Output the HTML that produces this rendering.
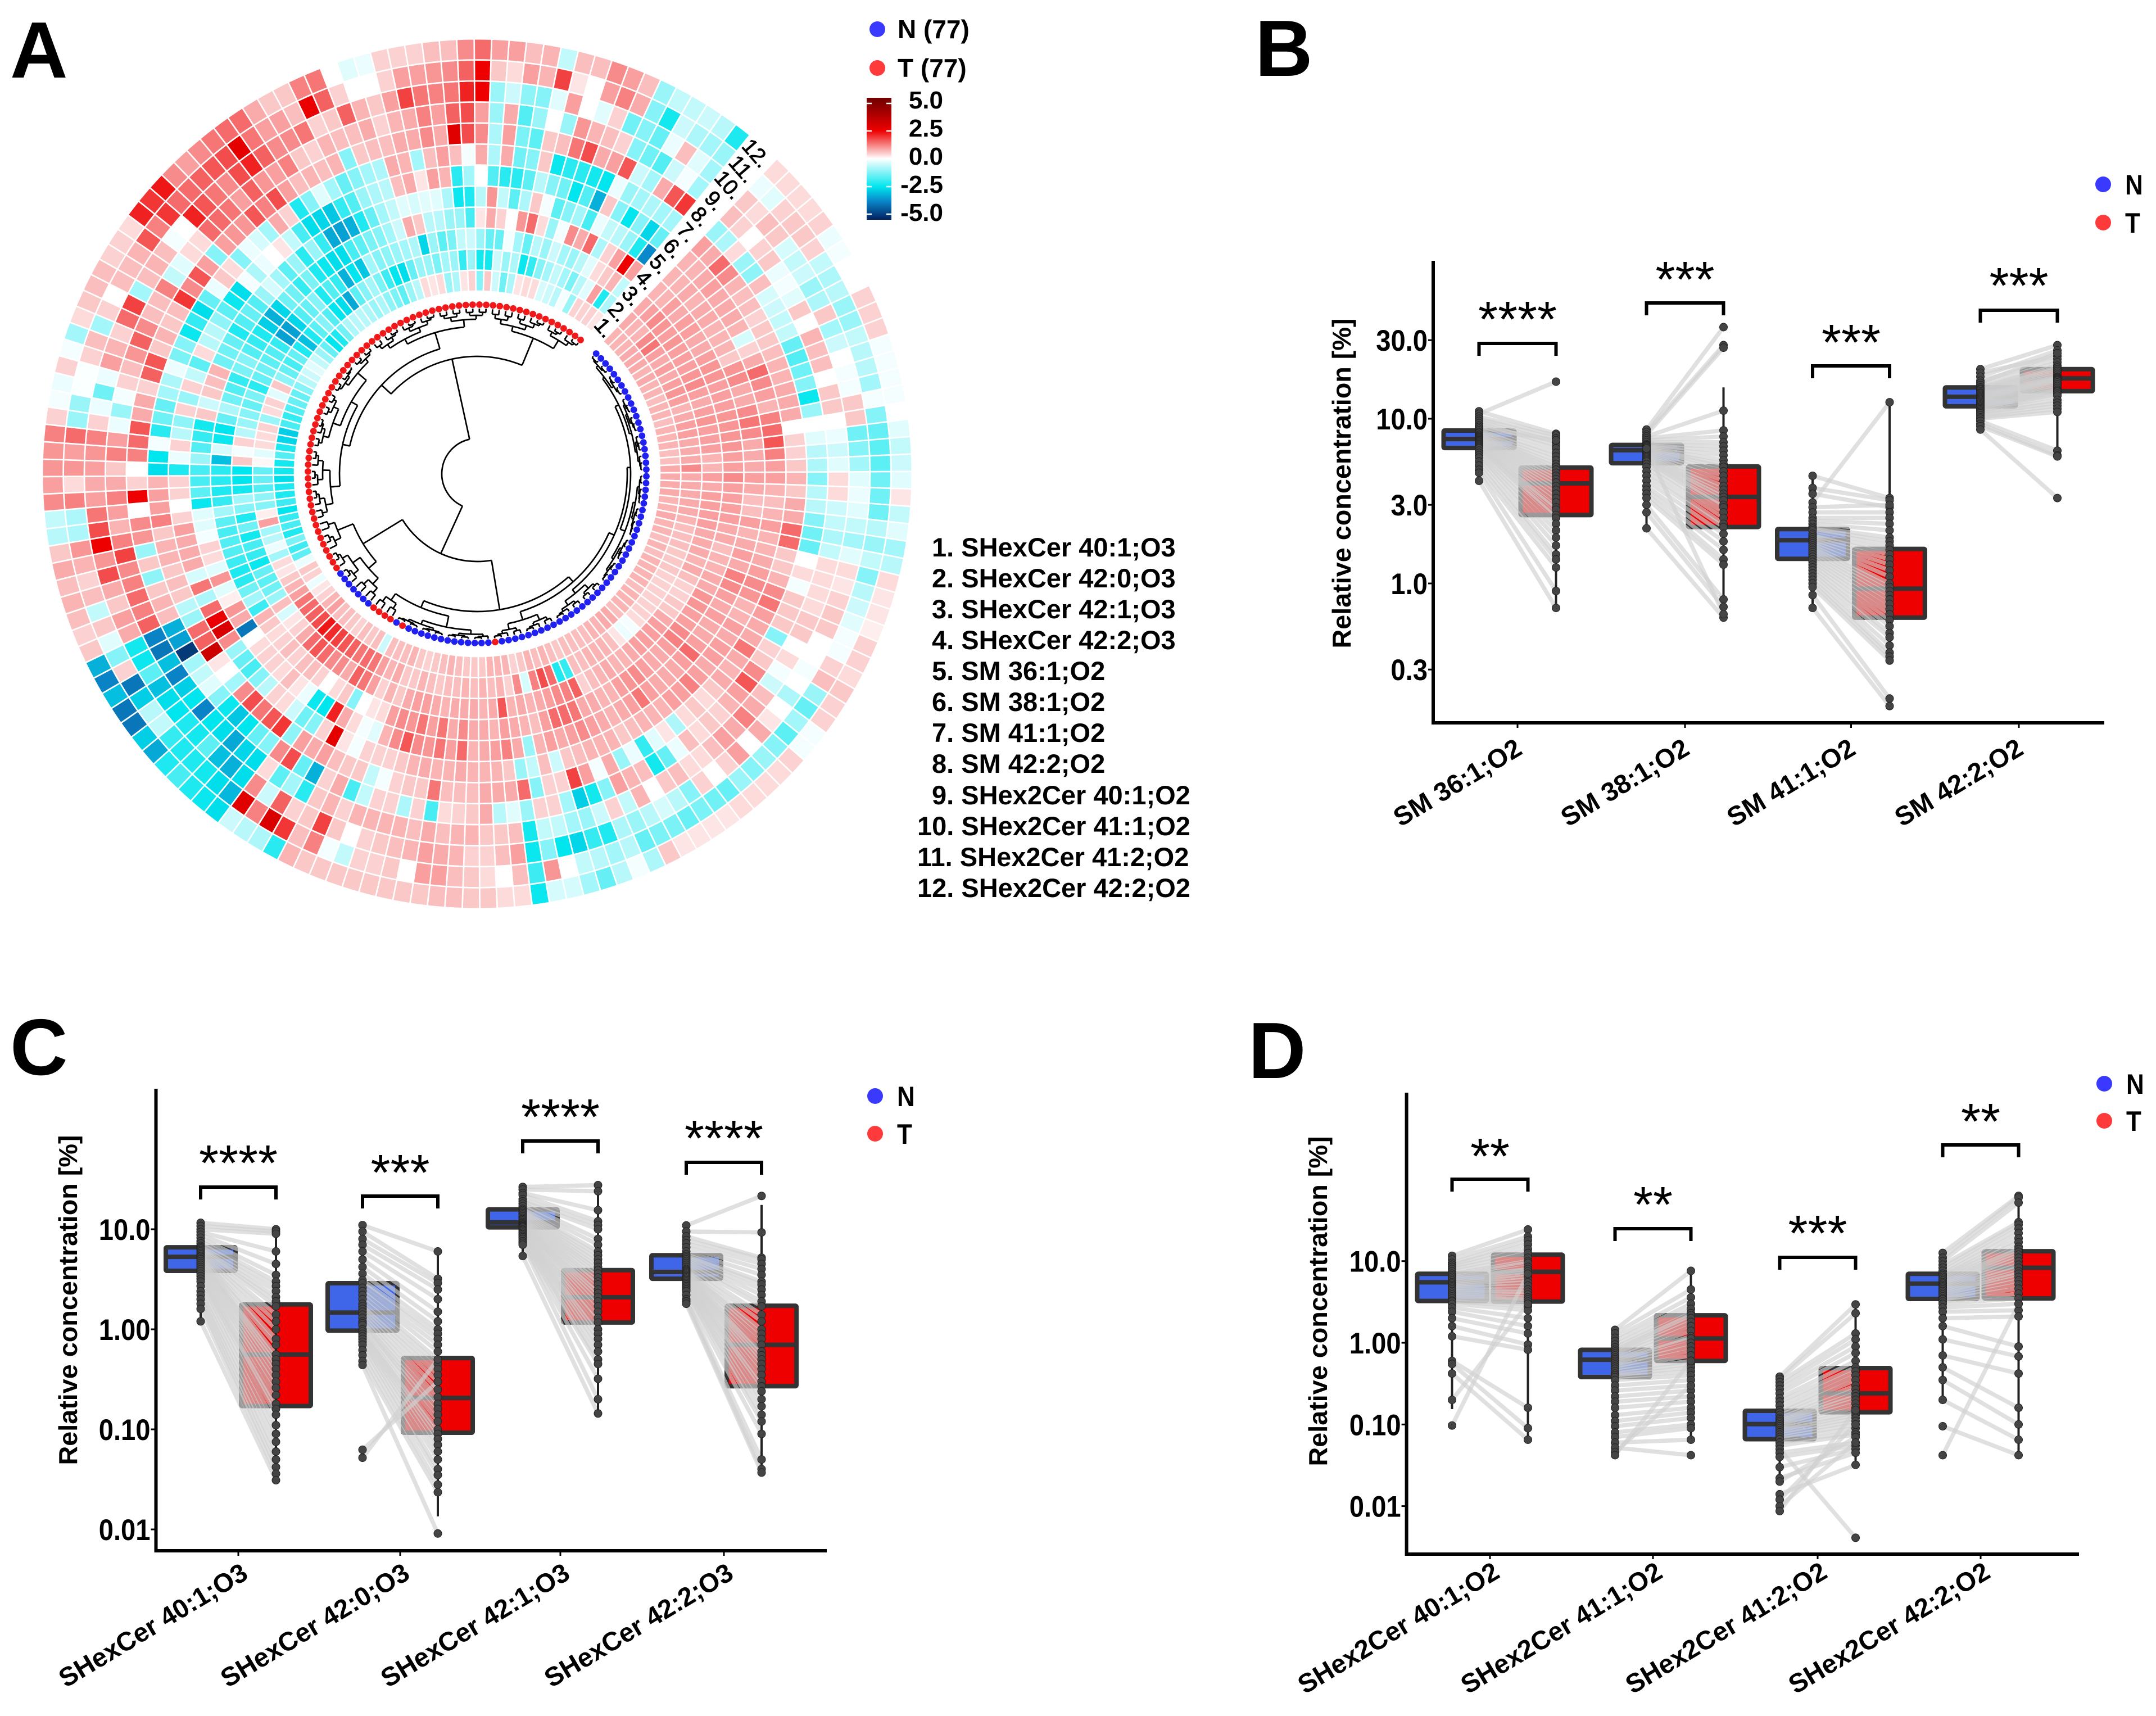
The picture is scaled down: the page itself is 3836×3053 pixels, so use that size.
<!DOCTYPE html>
<html><head><meta charset="utf-8"><title>Sulfatide and sphingomyelin heatmap and paired boxplots</title>
<style>html,body{margin:0;padding:0;background:#fff}svg{display:block}text{font-family:"Liberation Sans",sans-serif}</style></head>
<body>
<svg id="fig" xmlns="http://www.w3.org/2000/svg" width="3836" height="3053" viewBox="0 0 3836 3053">
<rect width="3836" height="3053" fill="#fff"/>
<defs><linearGradient id="cbGrad" x1="0" y1="0" x2="0" y2="1">
<stop offset="0" stop-color="#6e0000"/><stop offset="0.27" stop-color="#ee0000"/><stop offset="0.5" stop-color="#ffffff"/><stop offset="0.73" stop-color="#00e6ee"/><stop offset="0.85" stop-color="#0a85c9"/><stop offset="1" stop-color="#02205f"/></linearGradient></defs>
<g font-weight="bold" font-size="142" fill="#000">
<text x="18" y="138">A</text>
<text x="2233" y="135">B</text>
<text x="18" y="1912">C</text>
<text x="2221" y="1918">D</text>
</g>
<g id="heat"></g>
<g id="dendro" fill="none" stroke="#000" stroke-width="2.7"></g>
<g id="dots"></g>
<g font-weight="bold" font-size="46">
<circle cx="1561" cy="52" r="14" fill="#3a3aff"/>
<text x="1597" y="68">N (77)</text>
<circle cx="1561" cy="121" r="14" fill="#ff3a3a"/>
<text x="1597" y="137">T (77)</text>
</g>
<g font-weight="bold" font-size="44" text-anchor="end">
<rect x="1542" y="174" width="44" height="217" fill="url(#cbGrad)"/>
<g stroke="#fff" stroke-width="2.5">
<path d="M1542 184h9M1577 184h9M1542 233h9M1577 233h9M1542 282h9M1577 282h9M1542 332h9M1577 332h9M1542 381h9M1577 381h9"/>
</g>
<text x="1678" y="193">5.0</text>
<text x="1678" y="243">2.5</text>
<text x="1678" y="293">0.0</text>
<text x="1678" y="343">-2.5</text>
<text x="1678" y="393">-5.0</text>
</g>
<g id="ringKey" font-weight="bold" font-size="47">
<text x="1658" y="990">1. SHexCer 40:1;O3</text>
<text x="1658" y="1045">2. SHexCer 42:0;O3</text>
<text x="1658" y="1100">3. SHexCer 42:1;O3</text>
<text x="1658" y="1155">4. SHexCer 42:2;O3</text>
<text x="1658" y="1210">5. SM 36:1;O2</text>
<text x="1658" y="1265">6. SM 38:1;O2</text>
<text x="1658" y="1320">7. SM 41:1;O2</text>
<text x="1658" y="1375">8. SM 42:2;O2</text>
<text x="1658" y="1431">9. SHex2Cer 40:1;O2</text>
<text x="1632" y="1486">10. SHex2Cer 41:1;O2</text>
<text x="1632" y="1541">11. SHex2Cer 41:2;O2</text>
<text x="1632" y="1596">12. SHex2Cer 42:2;O2</text>
</g>
<g id="chartB"></g>
<g id="chartC"></g>
<g id="chartD"></g>
</svg>
<script>
// ---------- Panel A heatmap values: one array per ring, 154 samples clockwise from the gap ----------
const ring1=[.8,.8,.8,.9,.9,.9,.8,.9,.8,.8,.7,.8,.8,.7,.8,.8,.8,.7,.7,.9,
.9,.9,.9,.8,.8,.9,.8,.8,.7,.8,.7,.8,.8,.8,.8,.7,.8,.8,.8,.7,.9,.9,.8,.8,.7,.7,.7,.7,.6,.7,.8,.7,.8,.6,.5,.8,.8,.8,.6,
.6,.6,.7,.8,.7,.6,.5,.6,.8,.7,.7,.7,-.5,.7,.6,.7,.5,.6,.7,.7,1,.8,.5,.3,-.2,.5,.6,-.2,-1.6,-1.9,-1.3,-2.2,-1.8,-2,-2.5,-1.9,-2.2,-2.2,-2.6,
-2.3,-2.3,-1.7,-2.2,-2.7,-2.8,-1.8,-2,-1.7,-1.5,-1.5,-1.2,-.7,-.5,-.3,-.6,-1,-1.5,-2.5,-2.2,-1.4,-.8,-.7,-.7,-.8,-1,-.8,-1.1,-1.3,-1.6,-1,-.7,.4,.3,.4,-1,-.8,.3,.5,
-1.2,.6,-.5,-1.4,-.8,.3,.4,.4,-.4,-.5,-.7,-.1,-1,.5,.5,.5,.3];
const ring2=[.9,.8,.8,1.2,1.4,1,.9,1,.9,1,1.1,1,.8,.9,1,1,.9,.9,.9,1.2,
.9,.9,.9,.9,.9,.8,.7,.7,.7,.6,.6,.6,.5,.5,.5,.5,.5,.5,.4,-.1,-.2,.3,.7,.8,.8,.8,.7,.7,-2,-2.2,1.5,1.8,1.3,-.4,1.2,.5,.8,.7,.8,
.7,.8,.7,.7,.6,.7,.8,.6,.6,.9,.8,1,1.4,1.5,1.4,1.6,1.7,1.9,2.1,2.3,1.8,1.6,1.5,1.4,1,.8,.6,.3,.4,-.9,-.2,-.7,-.9,1,.2,-1.2,-1.1,-1.7,-1.5,
-1.5,.1,-.3,.4,.4,.5,-1,.4,.5,-.3,.6,-1.1,-1.5,-1.8,-1.5,-2.2,-3,-2.2,-1.6,-1.2,-1.7,-2.5,-2.6,-3.3,-1.6,-1.2,-.9,-1.3,-1.9,-2.5,-2.6,-1.5,-1,-1,-1.3,-.9,-1,-2,-1,
-2.3,-2.3,-.5,-1,-.8,-2.4,-2,-1.2,-.9,-.6,-.9,-1.3,-.7,-.3,1,-2.2,-.8];
const ring3=[.9,1,1.2,1.1,1,1.1,1,1,1,1.1,1.2,1,.9,1,1.1,1,1,1,.8,.8,
1,.9,1,1,1,1,.9,.9,.9,.8,.9,.7,.5,.5,.6,.6,.9,1,1,1,1,.9,.8,.8,.9,.8,.7,.5,1.6,1.3,1.2,1,.9,.8,.9,.8,1.7,.9,.8,
.9,.9,.9,.8,.9,1,1,.9,.6,.8,.5,1,1.4,1.6,.9,1.2,1.2,1.5,1.7,1.5,.9,.5,.3,-.4,.7,-1,-1.4,-1.6,-1.5,-2.4,-2,-1.8,-2.3,-1.4,-2.2,-1.2,-.9,-2.3,-2.5,
-2.5,.6,-.1,.5,-.7,-1,-1.2,-1.5,-1.3,-2.1,-1.5,-1.4,-1.6,-1.7,-2,-3.4,-3.4,-2.7,-1.7,-1.5,-1.2,-2.2,-1.7,-2,-3.2,-2.5,-2.9,-.9,-1.2,-1.1,-1,-.9,-.8,-2.7,-1,-1.6,-1.3,-.6,-.5,
-1,-1.5,-1.5,-.1,-.9,-1.5,-.7,-1,-.5,-.9,-1,-.7,-.3,.4,.6,.8,-.6];
const ring4=[.8,.8,1,.9,1,1,.9,.9,1,1.1,1.1,1,1,1,1.1,1.1,1.1,1.1,1,1,
1.2,1,1,1,1,.9,.9,.7,.8,.8,.9,.9,1.1,1.1,1,1,1.2,1.3,1,.9,.9,1,1.2,1.1,1,.8,.8,.9,.9,1.4,1.5,1.5,1,.7,.8,.9,1,.8,.9,
.9,1.2,.9,1.4,1,1.4,1.1,1.2,1,.4,.3,0,-1.2,.6,.4,0,.5,.7,.7,.5,.7,.5,.4,.6,.8,-1.9,-.9,-1.4,-2.1,-2.2,-1.9,-1.7,-1.7,-1.8,-1.6,-.9,-2,-2.2,-2.1,
-2.1,-3,-.4,-2.4,-2.5,-1.5,-.8,-1.4,-1.7,-2,-1.3,-1.2,-1.7,-2,-2.2,-2.8,-3.2,-2.7,-1.4,-1.4,-2,-1.3,-2.2,-2.4,-2.6,-2.6,-1.8,-1.6,-1.3,-1.2,-.9,-.5,.9,.6,-.7,-.7,-1,-1,-1.8,
.3,.9,.5,0,1.1,1.5,.4,-1,-.1,1.2,.9,1.5,-.8,.5,1,2.5,1];
const ring5=[.8,.8,.9,.8,.9,.9,.8,.8,.8,.6,1.1,1.2,.9,.9,1.2,1.4,1.2,.9,.9,.9,
1,.9,.7,.7,1,.8,.9,1,.9,1.3,1.2,1,.9,1,.9,.9,1,1.5,1,.9,.9,.9,1,1.4,1,.9,.8,.9,1,1.2,1,.9,1,.8,-1,.9,1.3,1,.9,
.8,1.5,1,1.4,1.1,1.2,1.7,1.2,.8,-.3,-.1,.4,.9,2.2,-2.5,-2.4,-.2,.3,.7,.4,.5,.5,.4,0,-4,.9,1.1,.2,-.3,1.1,-.3,.4,.5,-.1,-.3,-.3,-2.4,-1.6,-1.8,
-1.8,-1,-1.7,-2,-2.3,.6,-.5,.6,.7,.8,-1.4,-1.4,-1.5,-2.2,-1.7,-1.5,-1.7,-1,-.4,-.9,-1.6,-1,-2.1,-1,-2,-3.3,-3.4,-3.2,-2.2,-1.5,-.9,-.6,-.3,-.4,-.3,-.3,-.8,-2.4,-2.2,
-.7,1.1,-.6,-1.6,-.8,.6,-.1,-1.6,-1.2,-.9,-1.8,-.2,-.6,-.7,-1,-2.2,-3.7];
const ring6=[.8,.8,.9,1,.9,.9,.9,.8,-.4,.5,.9,1.5,1.2,1,.8,1.3,1.5,1.7,1.3,1,
1,.8,.7,.8,1,.8,.8,.9,1,1.2,1.1,.8,.8,1,.9,1,1,.9,1,1.3,1,1,.8,.8,.8,.7,.6,.8,.8,.8,.7,.6,-.5,.7,-.6,-1,.6,.8,.8,
.8,.9,.8,.8,.9,.8,.6,.5,.5,.5,-.1,.3,2.7,.5,-1.2,-1.4,-.5,.4,.5,-.7,-1.2,-1.8,-1.5,-1,1.2,3,2.6,1.5,-.8,1.4,-.4,.9,.9,.9,1,.5,0,.5,.5,
-2.2,-.2,.5,-.7,-1.1,.5,-1,.5,-.6,-1.6,.4,-.7,-.7,-1.1,-1.6,-2.4,-2.6,-.1,-.8,-.2,0,.3,-.6,-1.8,-2.6,-2.7,-2.9,-2,-1.7,-1,-.8,-.7,.7,.9,.3,1,.8,-2.1,-.9,
0,-1.7,-2.1,-2.1,-1.6,-.7,-1.2,-1.4,-2.5,-1.7,-3.2,.6,-1.2,-2.5,-1.2,-2.7,-1.5];
const ring7=[1,.9,1.5,1.2,.8,.7,.7,.5,.6,.6,.7,.8,.8,.9,.9,.9,0,.5,.5,.6,
.8,.6,.9,.9,1.5,1.5,.6,.6,.8,1.2,1.4,1,.9,.9,1.4,.9,.8,.9,.6,.4,.6,.4,-.8,.3,-.3,-2,-.2,-1,.9,-.1,1,1.9,.5,.5,-1.2,1.5,.9,.9,.9,
.7,.7,.7,1.4,.6,.6,.5,-.1,-.6,.6,.6,.7,1,.9,1,-1.1,2,1.7,1.4,1.8,1.2,-.9,0,.3,3.3,1.6,1.5,-1,-.7,.6,.7,.6,.8,.8,.6,1.3,1,1,.8,
-2.6,-2.5,-.1,-2.1,-1.4,-1.5,-.9,-.8,-.2,-1.3,-1.2,-2.4,-2,-2.6,-1.5,-.2,.6,.4,-1.2,-.2,-.4,-.9,.9,.5,-2.2,-1.2,-.3,-.9,-1.5,-1.2,-.9,-.8,.9,.8,-.9,.7,1,.7,-.1,
.9,-.8,.9,-1.4,-1.2,.6,-2.4,-2.1,-2.1,-2.3,-2.5,-.2,-1,-.9,-.8,-.9,-.9];
const ring8=[-1,-.8,.4,-1,-1.1,.7,-.4,-.5,-.6,-.6,-1.5,-1.7,-1.4,-1.2,-2.4,-1,0,-.3,-.7,-.8,
-1.2,-.7,-.7,-1.2,-1.4,-1.5,0,.4,-.1,.6,.6,.6,-1.2,.5,.6,1.2,1.7,1,.8,.5,.6,.4,.7,-.2,-1.5,-2.3,.7,.8,1,-1.2,-2.3,-2.8,-.9,.5,.5,-1,-.3,-.7,.9,
.6,.5,.4,-1.8,.5,-.8,.5,.5,-.6,-1.8,.9,.5,-3.2,-1.5,1.8,1.2,-1.2,-1.5,-2.5,-2.9,-2.4,-1.2,-.3,-.6,-.9,-5,-3.4,-3.2,.7,.8,.6,-1.1,.6,-1,1.1,1.2,0,2.5,.5,
0,1.3,1.5,1.7,.9,.9,.5,1.6,1.7,.6,.8,.6,.7,2,1.2,1.7,1,-1.2,1,1.1,1.1,1.7,1.3,1.8,1,.7,.8,.7,.8,-1.2,.6,.7,.7,.9,.9,1.2,.9,2.8,1.8,
1.2,-.8,1,-1.3,-1.6,.6,.7,1.4,1.8,.9,1,1.7,-.5,-.9,.9,1.7,2];
const ring9=[.7,.5,0,.5,.6,-.2,-.1,-.3,.6,0,.8,.7,.7,0,.6,.6,0,-.2,-.5,-.3,
.4,.4,-.5,-.6,-.8,-.6,.4,.4,.4,.4,.6,.6,0,.4,-.1,-.5,.7,.9,1.3,.9,1,.7,.4,.4,.7,.6,0,.8,-.6,.5,-.5,-1,-.9,-.6,-.6,-2.3,.7,.6,.6,
.8,.8,.7,.9,.7,.8,.8,.8,.8,.5,.8,.6,-2.1,-.9,-1.6,.4,-2.6,-2.7,-3.3,-2.6,-2.5,-3.8,-2.5,-2.8,-3.8,-3,-4,-3.8,1.6,1.3,1.5,1.3,1.2,1.9,1.3,.8,1,1.3,.9,
.6,1.3,1,-.2,-1,-.1,.5,.7,1.1,1.6,1.2,.7,.7,1.3,-.6,-.3,.4,.4,1.5,1.5,1.4,1,1.6,1.1,1,1.3,.6,.5,.8,.7,.7,.9,.5,.8,.9,1.3,1,1.6,1.8,
1,-1,.9,-1.7,-1,0,-1,1.1,.8,.7,.5,-1.2,-1.4,-1.7,-.5,-.1,-.9];
const ring10=[.6,.4,.7,.6,-.4,-.6,-.5,-1,-.8,.6,-.9,-.5,0,-.1,-.1,.6,.6,-1.4,-1.2,-.9,
-.3,-.2,-.3,-.6,-.9,-.3,.4,.3,.5,.6,.6,0,0,-.1,0,-.8,0,.3,.9,0,1,.5,0,.5,-1.2,-.7,-.4,-.7,-1,-.8,-2.2,-2,-2.7,-2.5,-1.2,-2.4,1,.7,.5,
.5,.8,.9,1,.8,.7,.6,.5,0,.6,1.9,.6,.5,1.6,-.5,1.2,-2.6,-3.2,-3,-1.6,-2.3,-2.2,-2.5,-2.6,-3,-1.6,-2.4,-2.3,.9,1,.6,.9,1.8,1.1,2.5,1.8,1.4,1,.9,
1,1.1,1.3,.5,-.2,-1.4,-.2,1,.8,.5,1.5,1.9,-.9,.7,.8,.7,-.1,0,2.2,1.7,1.4,1.2,1.8,2.2,1.6,1.2,1.2,1.4,.5,.6,1.6,.8,.6,1,1.9,1.4,1.3,1.4,2.2,
2.5,-1,-.5,-1.1,-1.2,-.3,1,0,-.3,.5,-1.4,-1.2,-1.5,-.2,.7,-.3,-.9];
const ring11=[-.2,-.3,.5,.6,.6,.5,-.6,-.8,-.7,-1,-1,-.6,-.7,-.7,-.9,-.1,-1.2,-1.5,-1.6,-1.6,
-1.4,-1.4,-1.4,-.7,-1,-.6,-1.2,-.7,-.5,-.3,-.1,-.1,.5,.7,-1,-1.5,-.9,-1.6,-1.2,-1,-1.2,-1,-1.5,-1.4,-1.3,-1.5,-1.3,-1.3,-1.5,-.7,-.9,-.7,-.6,0,1.1,-1.9,.7,0,.4,
.6,.7,1,1,0,.6,.5,.5,-.6,-.1,1.3,.7,2,3,1.3,2.8,-3.1,-2.6,-2.3,-2.2,-2.2,-2,-.6,-.7,-2.8,-4,.5,-1.2,-.3,.6,-.6,.7,.5,.8,1.1,-.8,-.8,1.3,.4,
1.1,1,1.5,-1,-1,-.05,-.05,.5,.7,-.9,.5,0,.7,.7,.8,1.7,1.3,2,1.5,1.5,1.6,1.7,1.8,2.7,1.4,1,1,.7,2.6,1.6,.5,0,0,.5,1,1,1.1,1.2,1.6,
2.5,.6,.4,1,.8,1.9,.3,0,1,1.3,.9,-1.2,-2.3,-.5,-.8,-.9,-1];
const ring12=[.4,.4,.4,.4,.5,-.2,-.1,0,0,.5,.5,.5,-.1,-.1,-.1,-.1,0,-.3,-.6,-.5,
-.3,.3,-.6,-.3,-.9,-.7,.4,.3,.3,.2,.5,.5,.4,.6,.5,.5,-.1,-.1,.5,.4,.4,.4,.4,.3,.3,.3,.3,.6,-.8,-.1,-.7,-1.5,-.9,-.4,-.4,-2.4,.4,.4,.6,
.6,.7,.7,.6,.6,.6,.6,.6,.6,.6,.6,.8,-2.1,-.8,-.7,-.5,-2.6,-2.4,-2.2,-1.8,-2.2,-3.3,-2.8,-4,-4,-3,-3.8,-3.2,.6,.5,.7,.8,.7,.9,.6,-.7,-.6,1.2,1,
1.1,1.1,1.3,.5,-.1,-.2,.5,-.1,-.9,.4,.6,.7,.7,.5,.5,.4,2.2,2,2.3,1.2,1,1.2,1.4,1.5,1.5,.9,.6,.6,1.3,1.4,0,-.3,-.2,.5,.5,.5,.7,.7,1.2,
1.5,1,1,.7,.8,-.6,.7,.7,1.2,1,.7,-1,-.6,-.6,-.5,-.7,-2.2];
const rings=[ring1,ring2,ring3,ring4,ring5,ring6,ring7,ring8,ring9,ring10,ring11,ring12];
const ringNumbers=['1.','2.','3.','4.','5.','6.','7.','8.','9.','10.','11.','12.'];
// sample classes around the circle as runs: [count, class]
const sampleRuns=[[56,'N'],[1,'T'],[13,'N'],[1,'T'],[1,'N'],[4,'T'],[7,'N'],[71,'T']];
// dendrogram topology: [merge radius, child, child]; [radius, number] is a tight cluster of leaves
const sampleTree=[63,
 [156,
  [245,
   [257,[267,[273,[280,[284,8],[284,[287,6],[287,6]]],[282,[286,10],[286,8]]],[275,9]],[272,10]],
   [258,[278,15],[272,4]]],
  [238,[256,[270,4],[272,[283,3],[283,3]]],[268,[280,3],[280,2]]]],
 [209,
  [232,
   [245,[262,[275,5],[275,6]],[258,[272,[282,5],[282,4]],[278,[285,5],[285,4]]]],
   [262,[272,[280,5],[280,6]],[275,[282,4],[282,4]]]],
  [261,[270,[278,4],[278,5]],[278,[285,3],[285,3]]]]];

// ---------- Panel B values ----------
const bCats=['SM 36:1;O2','SM 38:1;O2','SM 41:1;O2','SM 42:2;O2'];
const bTicks=[30,10,3,1,.3];
const bTickLabels=['30.0','10.0','3.0','1.0','0.3'];
const bStars=['****','***','***','***'];
const bNQ1=[6.64,5.37,1.41,11.9],bNMed=[7.53,6.44,1.83,13.6],bNQ3=[8.48,6.93,2.14,15.5];
const bTQ1=[2.6,2.2,.62,14.7],bTMed=[4.05,3.35,.93,17.6],bTQ3=[5.05,5.13,1.62,20];
const bNLo=[4.2,2.16,.71,8.6],bNHi=[11.1,8.6,4.5,20],bTLo=[.71,.62,.34,6],bTHi=[8.1,15.5,12.6,28];
const bN1=[11.1,10.7,10.3,10,9.7,9.4,9.1,8.9,8.7,8.5,8.3,8.2,8,7.9,7.8,7.7,7.6,7.5,7.4,7.3,7.2,7.1,7,6.9,6.8,6.7,6.6,6.4,6.2,6,5.8,5.5,5.2,4.9,4.7,4.2];
const bT1=[8.1,16.8,7.9,7.6,7.2,6.9,6.6,7.4,6.2,5.9,5.6,5.3,5.1,4.9,4.7,4.5,4.3,4.1,3.9,3.7,3.5,3.3,3.1,2.9,2.8,2.6,2.5,2.3,2.1,1.9,1.7,1.5,1.4,1.25,.9,.71];
const bN2=[8.6,8.3,8,7.8,7.6,7.4,7.2,7,6.9,6.8,6.7,6.6,6.5,6.4,6.3,6.2,6.1,6,5.9,5.8,5.7,5.6,5.5,5.3,5.1,4.8,4.5,4.2,3.9,3.7,3.5,3.3,3,2.7,2.16,6.6];
const bT2=[36,28,27,11.2,8.5,7.8,7.2,6.8,6.4,6,5.6,5.3,5.1,4.8,4.5,4.2,3.9,3.7,3.5,3.35,3.2,3,2.9,2.7,2.5,2.3,2.2,2,1.8,1.6,1.4,1.3,.8,.72,.62,.65];
const bN3=[4.5,3.8,3.5,3.1,2.9,2.7,2.5,2.4,2.3,2.2,2.15,2.1,2,1.95,1.9,1.85,1.8,1.75,1.7,1.65,1.6,1.55,1.5,1.45,1.4,1.35,1.3,1.25,1.2,1.15,1.1,1.05,1,.95,.85,.71];
const bT3=[3.3,3.2,2.9,12.6,3,2.7,2.5,2.3,2.1,1.9,1.8,1.7,1.6,1.5,1.4,1.3,1.2,1.1,1,.95,.9,.85,.8,.75,.7,.65,.6,.55,.5,.47,.42,.38,.36,.34,.2,.18];
const bN4=[20,19,18,17,16.5,16,15.5,15.2,15,14.7,14.4,14.2,14,13.8,13.6,13.4,13.2,13,12.8,12.6,12.4,12.2,12,11.8,11.6,11.4,11.2,11,10.8,10.5,10.2,10,9.7,9.3,9,8.6];
const bT4=[28,24,26,23,25,22,21,20.5,20,19.5,19,18.5,18,17.8,17.6,17.4,17.2,17,16.6,16.2,15.8,15.4,15,14.8,14.6,14.2,13.8,13,12.5,12,11.5,11,6.4,6,5.9,3.3];

// ---------- Panel C values ----------
const cCats=['SHexCer 40:1;O3','SHexCer 42:0;O3','SHexCer 42:1;O3','SHexCer 42:2;O3'];
const cTicks=[10,1,.1,.01];
const cTickLabels=['10.0','1.00','0.10','0.01'];
const cStars=['****','***','****','****'];
const cNQ1=[3.84,.97,10.45,3.2],cNMed=[5.3,1.47,11.7,3.74],cNQ3=[6.6,2.89,15.8,5.5];
const cTQ1=[.171,.0925,1.17,.27],cTMed=[.56,.206,2.09,.7],cTQ3=[1.77,.516,3.9,1.72];
const cNLo=[1.2,.44,5.4,1.8],cNHi=[11.6,11,26.5,10.9],cTLo=[.031,.0135,.144,.037],cTHi=[10,6,27.6,17.5];
const cN1=[11.6,10.8,10,9.4,8.8,8.2,7.6,7.2,6.8,6.6,6.4,6.2,6,5.8,5.6,5.4,5.3,5.1,5,4.8,4.6,4.4,4.2,4,3.8,3.6,3.4,3.2,3,2.7,2.4,2.2,2,1.8,1.6,1.2];
const cT1=[10,9.5,9,6,4.5,3.5,3,2.7,2.4,2.1,1.9,1.7,1.4,1.2,1,.8,.7,.56,.5,.45,.4,.35,.3,.26,.22,.18,.16,.14,.11,.09,.075,.06,.05,.042,.036,.031];
const cN2=[11,9.5,8,7,6,5,4.2,3.6,3.1,2.9,2.6,2.4,2.2,2,1.8,1.7,1.6,1.5,1.4,1.3,1.2,1.15,1.1,1,.95,.9,.85,.8,.75,.7,.62,.55,.48,.44,.0625,.052];
const cT2=[6,3.2,2.9,2.5,2,1.5,1.2,1,.9,.8,.7,.6,.5,.45,.4,.35,.3,.25,.21,.18,.16,.14,.12,.1,.09,.08,.07,.06,.05,.04,.035,.028,.0235,.0091,.3,.5];
const cN3=[26.5,25,23,22,20,19,18,17,16,15.5,15,14.5,14,13.5,13,12.6,12.2,11.8,11.5,11.2,11,10.8,10.6,10.4,10,9.8,9.5,9.2,8.9,8.6,8.3,8,7.6,7.3,7,5.4];
const cT3=[27.6,24,15.5,12,11,10,8,7,6,5.5,5,4.6,4.2,3.9,3.6,3.3,3,2.8,2.5,2.3,2.1,1.9,1.7,1.5,1.3,1.17,1,.9,.8,.7,.6,.5,.45,.32,.2,.144];
const cN4=[10.9,9.5,8.5,7.8,7.2,6.6,6,5.6,5.4,5.2,5,4.8,4.6,4.4,4.2,4,3.9,3.8,3.7,3.6,3.5,3.4,3.3,3.2,3.1,3,2.9,2.8,2.7,2.6,2.5,2.4,2.2,2,1.9,1.8];
const cT4=[21.5,9.3,5.2,5,4.5,4,3.5,3,2.8,2.5,2.2,1.9,1.7,1.4,1.2,1,.9,.8,.7,.6,.55,.5,.45,.4,.35,.3,.27,.24,.2,.17,.14,.12,.09,.05,.04,.037];

// ---------- Panel D values ----------
const dCats=['SHex2Cer 40:1;O2','SHex2Cer 41:1;O2','SHex2Cer 41:2;O2','SHex2Cer 42:2;O2'];
const dTicks=[10,1,.1,.01];
const dTickLabels=['10.0','1.00','0.10','0.01'];
const dStars=['**','**','***','**'];
const dNQ1=[3.25,.38,.066,3.44],dNMed=[5.5,.62,.101,5.3],dNQ3=[7,.82,.147,7];
const dTQ1=[3.2,.6,.141,3.5],dTMed=[7.4,1.13,.24,8.3],dTQ3=[12,2.17,.49,13.2];
const dNLo=[.154,.042,.02,.2],dNHi=[11.6,1.44,.385,12.6],dTLo=[.065,.06,.032,.042],dTHi=[24.4,7.6,2.95,63];
const dN1=[11.6,10.5,9.5,9,8.5,8,7.5,7,6.7,6.4,6.1,5.8,5.5,5.3,5.1,4.9,4.7,4.5,4.3,4.1,3.9,3.7,3.5,3.3,3.2,3,2.7,2.4,2,1.6,1.2,.6,.55,.42,.2,.097];
const dT1=[24.4,20,18,16,14,12.5,11,10,9.5,8.5,8,7.5,7,6.5,6,5.5,5,4.5,4.2,3.9,3.6,3.4,3.2,3,2.8,2.5,2,1.6,1.3,.95,.82,.16,.09,.065,3,7];
const dN2=[1.44,1.3,1.15,1.05,.95,.88,.82,.78,.74,.7,.66,.63,.6,.57,.54,.51,.48,.45,.42,.4,.38,.35,.3,.26,.22,.19,.16,.13,.11,.095,.08,.07,.06,.052,.046,.042];
const dT2=[7.6,4.5,3.6,3,2.6,2.3,2.17,2,1.8,1.6,1.4,1.2,1.13,1,.9,.8,.7,.6,.55,.5,.45,.4,.35,.3,.26,.22,.19,.16,.14,.12,.1,.09,.065,.042,.3,.6];
const dN3=[.385,.36,.33,.3,.27,.24,.21,.19,.17,.15,.14,.13,.12,.115,.11,.105,.1,.095,.09,.085,.08,.075,.07,.066,.06,.055,.05,.045,.04,.03,.022,.02,.014,.012,.01,.0087];
const dT3=[2.95,2.3,1.3,1.1,.9,.75,.6,.5,.45,.4,.35,.3,.27,.24,.22,.2,.18,.16,.14,.13,.12,.11,.1,.09,.08,.075,.0041,.06,.055,.05,.045,.07,.032,.1,.06,.15];
const dN4=[12.6,11,10,9,8.3,7.6,7,6.7,6.4,6.1,5.8,5.5,5.3,5.1,4.9,4.7,4.5,4.3,4.1,3.9,3.7,3.5,3.4,3.2,3,2.7,2.4,2,1.6,1.1,.7,.5,.35,.2,.095,.042];
const dT4=[63,60,52,30,28,25,22,19,17,15,14,13,12,11,10,9,8.3,7.5,7,6.4,5.8,5.2,4.6,4,3.5,3,2.5,2.1,.9,.68,.42,.16,.1,.065,.042,3];

const NS='http://www.w3.org/2000/svg';
function mk(parent,tag,attrs,txt){
  const el=document.createElementNS(NS,tag);
  for(const k in attrs){el.setAttribute(k,attrs[k]);}
  if(txt!==undefined){el.textContent=txt;}
  parent.appendChild(el);
  return el;
}

// ---------- Panel A drawing ----------
const CX=849,CY=843,R0=325,RW=37.4,START=43.55,STEP=2.307;
function polar(r,a){const t=a*Math.PI/180;return [CX+r*Math.sin(t),CY-r*Math.cos(t)];}
function arcPath(r,a1,a2){
  const p=polar(r,a1),q=polar(r,a2);
  return 'A'+r+' '+r+' 0 '+(Math.abs(a2-a1)>180?1:0)+' '+(a2>a1?1:0)+' '+q[0].toFixed(1)+' '+q[1].toFixed(1);
}
const colorStops=[[-5.5,[2,28,88]],[-3.75,[10,133,201]],[-2.5,[0,230,238]],[0,[255,255,255]],[2.5,[238,0,0]],[5.5,[110,0,0]]];
function colorOf(v){
  v=Math.max(-5.5,Math.min(5.5,v||0));
  if(v>0&&v<2.5){v=2.5*Math.pow(v/2.5,1.07);}
  for(let i=1;i<colorStops.length;i++){
    if(v<=colorStops[i][0]){
      const a=colorStops[i-1],b=colorStops[i],f=(v-a[0])/(b[0]-a[0]);
      return 'rgb('+[0,1,2].map(function(k){return Math.round(a[1][k]+(b[1][k]-a[1][k])*f);}).join(',')+')';
    }
  }
  return 'rgb(110,0,0)';
}
const heat=document.getElementById('heat');
rings.forEach(function(vals,ri){
  const rIn=R0+RW*ri,rOut=rIn+RW;
  const g=mk(heat,'g',{stroke:'#fff','stroke-width':2.6});
  
  
  vals.forEach(function(v,c){
    const a1=START+STEP*c,a2=a1+STEP,p=polar(rIn,a1),q=polar(rOut,a1);
    const d='M'+p[0].toFixed(1)+' '+p[1].toFixed(1)+'L'+q[0].toFixed(1)+' '+q[1].toFixed(1)+arcPath(rOut,a1,a2)+'L'+polar(rIn,a2).map(function(n){return n.toFixed(1);}).join(' ')+arcPath(rIn,a2,a1)+'Z';
    const cell=mk(g,'path',{d:d,fill:colorOf(v)});
    
    
  });
  const c=polar(rIn+RW/2,41);
  const lab=mk(heat,'text',{x:c[0],y:c[1],'font-size':38,'text-anchor':'middle','dominant-baseline':'central',fill:'#000',stroke:'#000','stroke-width':0.9,transform:'rotate(49 '+c[0]+' '+c[1]+')'},ringNumbers[ri]);
  
  
});
const leafClasses=[];
sampleRuns.forEach(function(run){for(let i=0;i<run[0];i++){leafClasses.push(run[1]);}});
const colAngle=function(c){return START+STEP*(c+.5);};
const dotsG=document.getElementById('dots');
leafClasses.forEach(function(cls,c){
  const p=polar(301,colAngle(c));
  const dot=mk(dotsG,'circle',{cx:p[0].toFixed(1),cy:p[1].toFixed(1),r:5.9,fill:cls==='N'?'#2020f0':'#f01818'});
  
  
});
const dendro=document.getElementById('dendro');
let leafCursor=0,dendroD='';
function join(r,x,y){
  [x,y].forEach(function(ch){
    const p=polar(r,ch.a),q=polar(ch.r,ch.a);
    dendroD+='M'+p[0].toFixed(1)+' '+p[1].toFixed(1)+'L'+q[0].toFixed(1)+' '+q[1].toFixed(1);
  });
  const s=polar(r,x.a);
  dendroD+='M'+s[0].toFixed(1)+' '+s[1].toFixed(1)+arcPath(r,x.a,y.a);
  return {a:(x.a+y.a)/2,r:r};
}
function cluster(n,r){
  if(n===1){const a=colAngle(leafCursor);leafCursor+=1;return {a:a,r:294};}
  const k=Math.floor(n/2);
  const x=cluster(k,r+(293-r)*.5),y=cluster(n-k,r+(293-r)*.5);
  return join(r,x,y);
}
function grow(node){
  if(node.length===2){return cluster(node[1],node[0]);}
  const x=grow(node[1]),y=grow(node[2]);
  return join(node[0],x,y);
}
grow(sampleTree);
const dendroPath=mk(dendro,'path',{d:dendroD,'stroke-linejoin':'miter'});



// ---------- Boxplot drawing ----------
function drawBoxChart(hostId,L,cats,ticks,tickLabels,stars,nq1,nmed,nq3,tq1,tmed,tq3,nlo,nhi,tlo,thi,nSets,tSets){
  const host=document.getElementById(hostId);
  const y=function(v){return L.y1-L.decade*Math.log10(v);};
  const ink='#333';
  cats.forEach(function(cat,i){
    const xc=L.catX[i],xn=xc-L.off,xt=xc+L.off;
    const g=mk(host,'g',{});
    
    
    [[xn,nq1[i],nmed[i],nq3[i],'#3f66e8','n'],[xt,tq1[i],tmed[i],tq3[i],'#ee0000','t']].forEach(function(b){
      const box=mk(g,'rect',{x:b[0]-L.half,y:y(b[3]),width:L.half*2,height:y(b[1])-y(b[3]),fill:b[4],stroke:ink,'stroke-width':8,rx:2});
      
      
      const med=mk(g,'line',{x1:b[0]-L.half,x2:b[0]+L.half,y1:y(b[2]),y2:y(b[2]),stroke:ink,'stroke-width':8});
      
      
    });
    nSets[i].forEach(function(v,k){
      const ln=mk(g,'line',{x1:xn,y1:y(v).toFixed(1),x2:xt,y2:y(tSets[i][k]).toFixed(1),stroke:'#d0d0d0','stroke-width':7.5,'stroke-opacity':.66});
      
      
    });
    [[xn,nlo[i],nhi[i]],[xt,tlo[i],thi[i]]].forEach(function(w){
      const wl=mk(g,'line',{x1:w[0],x2:w[0],y1:y(w[1]),y2:y(w[2]),stroke:'#222','stroke-width':4});
      
      
    });
    [[xn,nSets[i]],[xt,tSets[i]]].forEach(function(s){
      s[1].forEach(function(v){
        const pt=mk(g,'circle',{cx:s[0],cy:y(v).toFixed(1),r:7,fill:'#444',stroke:'#222','stroke-width':1});
        
        
      });
    });
    const by=L.bracketY[i];
    const br=mk(g,'path',{d:'M'+xn+' '+(by+22)+'V'+by+'H'+xt+'V'+(by+22),fill:'none',stroke:'#000','stroke-width':6});
    
    
    const st=mk(g,'text',{x:xc,y:L.starY[i]+44,'font-size':90,'text-anchor':'middle',fill:'#000'},stars[i]);
    
    
    const tick=mk(g,'line',{x1:xc,x2:xc,y1:L.bottom,y2:L.bottom+9,stroke:'#000','stroke-width':3});
    
    
    const tx=xc+L.labelDx,ty=L.bottom+L.labelDy;
    const lab=mk(g,'text',{x:0,y:0,'font-size':47,'font-weight':'bold','text-anchor':'end',transform:'translate('+tx+' '+ty+') rotate(-31)'},cat);
    
    
  });
  const axis=mk(host,'path',{d:'M'+L.left+' '+L.top+'V'+L.bottom+'H'+L.right,fill:'none',stroke:'#000','stroke-width':6});
  
  
  ticks.forEach(function(v,i){
    const t=mk(host,'line',{x1:L.left-9,x2:L.left,y1:y(v),y2:y(v),stroke:'#000','stroke-width':3});
    
    
    const lb=mk(host,'text',{x:0,y:0,'font-size':53,'font-weight':'bold','text-anchor':'end',transform:'translate('+(L.left-10)+' '+(y(v)+19)+') scale(.89 1)'},tickLabels[i]);
    
    
  });
  const ttl=mk(host,'text',{x:L.titleX,y:L.titleY,'font-size':46,'font-weight':'bold','text-anchor':'middle',textLength:587,lengthAdjust:'spacingAndGlyphs',transform:'rotate(-90 '+L.titleX+' '+L.titleY+')'},'Relative concentration [%]');
  
  
  const nd=mk(host,'circle',{cx:L.legX,cy:L.legY[0],r:14,fill:'#3a3aff'});
  
  
  const nt=mk(host,'text',{x:0,y:0,'font-size':50,'font-weight':'bold',transform:'translate('+(L.legX+39)+' '+(L.legY[0]+18)+') scale(.88 1)'},'N');
  
  
  const td=mk(host,'circle',{cx:L.legX,cy:L.legY[1],r:14,fill:'#ff3a3a'});
  
  
  const tt=mk(host,'text',{x:0,y:0,'font-size':50,'font-weight':'bold',transform:'translate('+(L.legX+39)+' '+(L.legY[1]+18)+') scale(.88 1)'},'T');
  
  
}
drawBoxChart('chartB',{left:2550,right:3744,top:464,bottom:1286,y1:1038,decade:293,catX:[2700,2998,3293.5,3592],off:68.5,half:63,bracketY:[611,539,651,552],starY:[555,484,596,495],labelDx:11,labelDy:54,titleX:2403,titleY:860,legX:3742,legY:[328,396]},
 bCats,bTicks,bTickLabels,bStars,bNQ1,bNMed,bNQ3,bTQ1,bTMed,bTQ3,bNLo,bNHi,bTLo,bTHi,[bN1,bN2,bN3,bN4],[bT1,bT2,bT3,bT4]);
drawBoxChart('chartC',{left:277.5,right:1471,top:1937,bottom:2759,y1:2365,decade:178,catX:[424,712,997,1288],off:67,half:62,bracketY:[2112,2128,2030,2068],starY:[2056,2073,1974,2012],labelDx:20,labelDy:48,titleX:137,titleY:2313,legX:1557,legY:[1950,2017]},
 cCats,cTicks,cTickLabels,cStars,cNQ1,cNMed,cNQ3,cTQ1,cTMed,cTQ3,cNLo,cNHi,cTLo,cTHi,[cN1,cN2,cN3,cN4],[cT1,cT2,cT3,cT4]);
drawBoxChart('chartD',{left:2502.6,right:3699,top:1944,bottom:2765,y1:2389,decade:145.3,catX:[2651,2941,3234,3524],off:67.5,half:62,bracketY:[2098,2186,2237,2037],starY:[2044,2130,2181,1982],labelDx:20,labelDy:40,titleX:2361,titleY:2315,legX:3744,legY:[1928,1994]},
 dCats,dTicks,dTickLabels,dStars,dNQ1,dNMed,dNQ3,dTQ1,dTMed,dTQ3,dNLo,dNHi,dTLo,dTHi,[dN1,dN2,dN3,dN4],[dT1,dT2,dT3,dT4]);
</script>
</body></html>
